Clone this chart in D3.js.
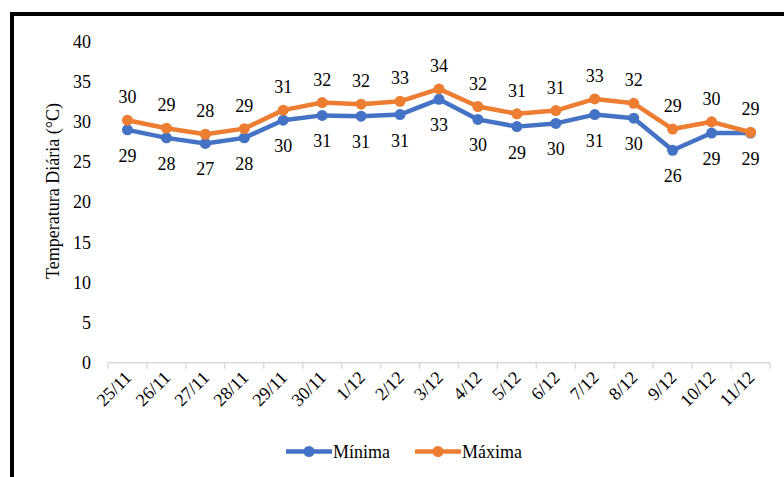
<!DOCTYPE html>
<html>
<head>
<meta charset="utf-8">
<script src="https://cdn.jsdelivr.net/npm/d3@7"></script>
<style>
  html, body { margin: 0; padding: 0; background: #fff; }
  svg text { font-family: "Liberation Serif", "Times New Roman", Times, serif !important; }
</style>
</head>
<body>
<svg id="chart" width="784" height="477"></svg>
<script>
// Daily temperatures, 25/11 to 11/12
const days = ["25/11","26/11","27/11","28/11","29/11","30/11","1/12","2/12","3/12",
              "4/12","5/12","6/12","7/12","8/12","9/12","10/12","11/12"];
const minima = [29.0, 28.0, 27.3, 28.0, 30.2, 30.8, 30.7, 30.9, 32.8,
                30.3, 29.4, 29.8, 30.9, 30.45, 26.45, 28.6, 28.6];
const maxima = [30.2, 29.2, 28.45, 29.15, 31.45, 32.4, 32.2, 32.55, 34.1,
                31.9, 31.0, 31.4, 32.85, 32.3, 29.1, 30.0, 28.7];
const yTicks = [0, 5, 10, 15, 20, 25, 30, 35, 40];

const series = [
  { name: "Mínima", values: minima, color: "#4472C4", labelDy: 32 },
  { name: "Máxima", values: maxima, color: "#ED7D31", labelDy: -17 }
];

const svg = d3.select("#chart");
const fs = 18;

// Outer frame
svg.append("rect")
  .attr("x", 12).attr("y", 14)
  .attr("width", 820).attr("height", 520)
  .attr("fill", "none").attr("stroke", "#000").attr("stroke-width", 4);

const x = d3.scaleBand().domain(days).range([108, 770]).padding(0);
const y = d3.scaleLinear().domain([0, 40]).range([362.7, 41.5]);
const cx = d => x(d) + x.bandwidth() / 2;

// Y axis labels (no axis line)
const yAxis = svg.append("g")
  .attr("transform", "translate(108,0)")
  .call(d3.axisLeft(y).tickValues(yTicks).tickSize(0).tickPadding(17));
yAxis.select(".domain").remove();
yAxis.selectAll("text")
  .attr("font-size", fs).attr("fill", "#000");

// X axis line with ticks at category boundaries
const gx = svg.append("g");
gx.append("line")
  .attr("x1", x.range()[0]).attr("x2", x.range()[1])
  .attr("y1", y(0)).attr("y2", y(0))
  .attr("stroke", "#d9d9d9").attr("stroke-width", 1.5);
const bounds = days.map(d => x(d)).concat([x.range()[1]]);
gx.selectAll("line.tk").data(bounds).join("line").attr("class", "tk")
  .attr("x1", d => d).attr("x2", d => d)
  .attr("y1", y(0)).attr("y2", y(0) + 6)
  .attr("stroke", "#d9d9d9").attr("stroke-width", 1.5);

// Rotated category labels
gx.selectAll("text").data(days).join("text")
  .attr("transform", d => `translate(${cx(d) + 5},${y(0) + 16}) rotate(-45)`)
  .attr("text-anchor", "end")
  .attr("font-size", fs).attr("fill", "#000")
  .text(d => d);

// Y axis title
svg.append("text")
  .attr("transform", "translate(59,191) rotate(-90)")
  .attr("text-anchor", "middle")
  .attr("font-size", fs).attr("fill", "#000")
  .text("Temperatura Diária (°C)");

const line = d3.line().x((v, i) => cx(days[i])).y(v => y(v));
const fmt = d3.format(".0f");

series.forEach(s => {
  const g = svg.append("g");
  g.append("path")
    .datum(s.values)
    .attr("d", line)
    .attr("fill", "none").attr("stroke", s.color)
    .attr("stroke-width", 4.5).attr("stroke-linejoin", "round");
  g.selectAll("circle").data(s.values).join("circle")
    .attr("cx", (v, i) => cx(days[i])).attr("cy", v => y(v))
    .attr("r", 5.5).attr("fill", s.color);
});

// Data labels
series.forEach(s => {
  svg.append("g").selectAll("text").data(s.values).join("text")
    .attr("x", (v, i) => cx(days[i]))
    .attr("y", v => y(v) + s.labelDy)
    .attr("text-anchor", "middle")
    .attr("font-size", fs).attr("fill", "#000")
    .text(v => fmt(v));
});

// Legend
const legend = svg.append("g");
const items = [{ s: series[0], x0: 286 }, { s: series[1], x0: 415 }];
items.forEach(({ s, x0 }) => {
  const ly = 451.5;
  legend.append("line")
    .attr("x1", x0).attr("x2", x0 + 46).attr("y1", ly).attr("y2", ly)
    .attr("stroke", s.color).attr("stroke-width", 4.5);
  legend.append("circle")
    .attr("cx", x0 + 23).attr("cy", ly).attr("r", 5.5).attr("fill", s.color);
  legend.append("text")
    .attr("x", x0 + 47).attr("y", ly + 6)
    .attr("font-size", fs).attr("fill", "#000")
    .text(s.name);
});
</script>
</body>
</html>
